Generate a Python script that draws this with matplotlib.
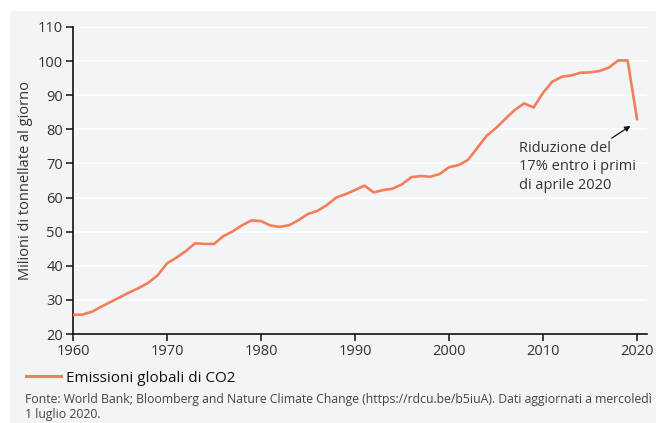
import matplotlib
matplotlib.use("Agg")
import matplotlib.pyplot as plt
from matplotlib.patches import Rectangle
from matplotlib.lines import Line2D

plt.rcParams['font.family'] = ['Open Sans', 'DejaVu Sans']

years = list(range(1960, 2021))
emissions = [
    25.6, 25.7, 26.5, 28.0, 29.4, 30.8, 32.2, 33.5, 35.0, 37.2,
    40.7, 42.4, 44.3, 46.6, 46.4, 46.4, 48.7, 50.1, 51.9, 53.3,
    53.1, 51.8, 51.4, 51.9, 53.4, 55.2, 56.1, 57.8, 60.0, 61.0,
    62.2, 63.5, 61.5, 62.2, 62.6, 63.9, 66.0, 66.3, 66.1, 66.9,
    68.9, 69.5, 71.0, 74.5, 78.1, 80.4, 83.1, 85.7, 87.6, 86.4,
    90.7, 94.0, 95.4, 95.8, 96.6, 96.7, 97.1, 98.1, 100.2, 100.2,
    83.0,
]
x_ticks = [1960, 1970, 1980, 1990, 2000, 2010, 2020]
y_ticks = [20, 30, 40, 50, 60, 70, 80, 90, 100, 110]

series_label = "Emissioni globali di CO2"
y_label = "Milioni di tonnellate al giorno"
note = "Riduzione del\n17% entro i primi\ndi aprile 2020"
source = ("Fonte: World Bank; Bloomberg and Nature Climate Change "
          "(https://rdcu.be/b5iuA). Dati aggiornati a mercoledì\n1 luglio 2020.")

LINE = "#f47d5a"
PANEL = "#f3f4f6"
TEXT = "#333333"

fig = plt.figure(figsize=(6.56, 4.23), dpi=100)
fig.patch.set_facecolor("white")
fig.patches.append(Rectangle((10 / 656, 0), 1 - 10 / 656, 1 - 11 / 423,
                             transform=fig.transFigure, facecolor=PANEL,
                             edgecolor="none", zorder=-5))

ax = fig.add_axes([73 / 656, 89 / 423, 574 / 656, 307 / 423])
ax.set_zorder(2)
ax.set_facecolor(PANEL)
ax.plot(years, emissions, color=LINE, lw=1.9, solid_joinstyle="round", zorder=3)

ax.set_xlim(1960, 2021.06)
ax.set_ylim(20, 110)
ax.set_xticks(x_ticks)
ax.set_yticks(y_ticks)
ax.grid(axis="y", color="white", lw=1.2)
ax.set_axisbelow(True)
for s in ("top", "right"):
    ax.spines[s].set_visible(False)
for s in ("left", "bottom"):
    ax.spines[s].set_color("#111111")
    ax.spines[s].set_linewidth(1.2)
ax.tick_params(axis="both", colors="#111111", length=5, width=1.1,
               labelsize=10.5, labelcolor=TEXT, pad=2)
ax.set_ylabel(y_label, fontsize=10.5, color=TEXT, labelpad=4)

ax.annotate("", xy=(2019.3, 81.0), xytext=(2017.3, 77.4),
            arrowprops=dict(arrowstyle="-|>", color="#111111", lw=0.9,
                            mutation_scale=8, shrinkA=0, shrinkB=0))
ax.text(2007.4, 76.6, note, fontsize=10.5, color=TEXT, va="top", ha="left",
        linespacing=1.3)

fig.legend(handles=[Line2D([], [], color=LINE, lw=2.2)], labels=[series_label],
           loc="center left", bbox_to_anchor=(12 / 656, 1 - 378 / 423),
           frameon=False, fontsize=11, handlelength=2.3, handletextpad=0.35,
           labelcolor="#111111")
fig.text(25 / 656, 1 - 393 / 423, source, fontsize=8.8, color="#444444",
         va="top", ha="left", linespacing=1.2)

fig.savefig("out.png", dpi=100)
